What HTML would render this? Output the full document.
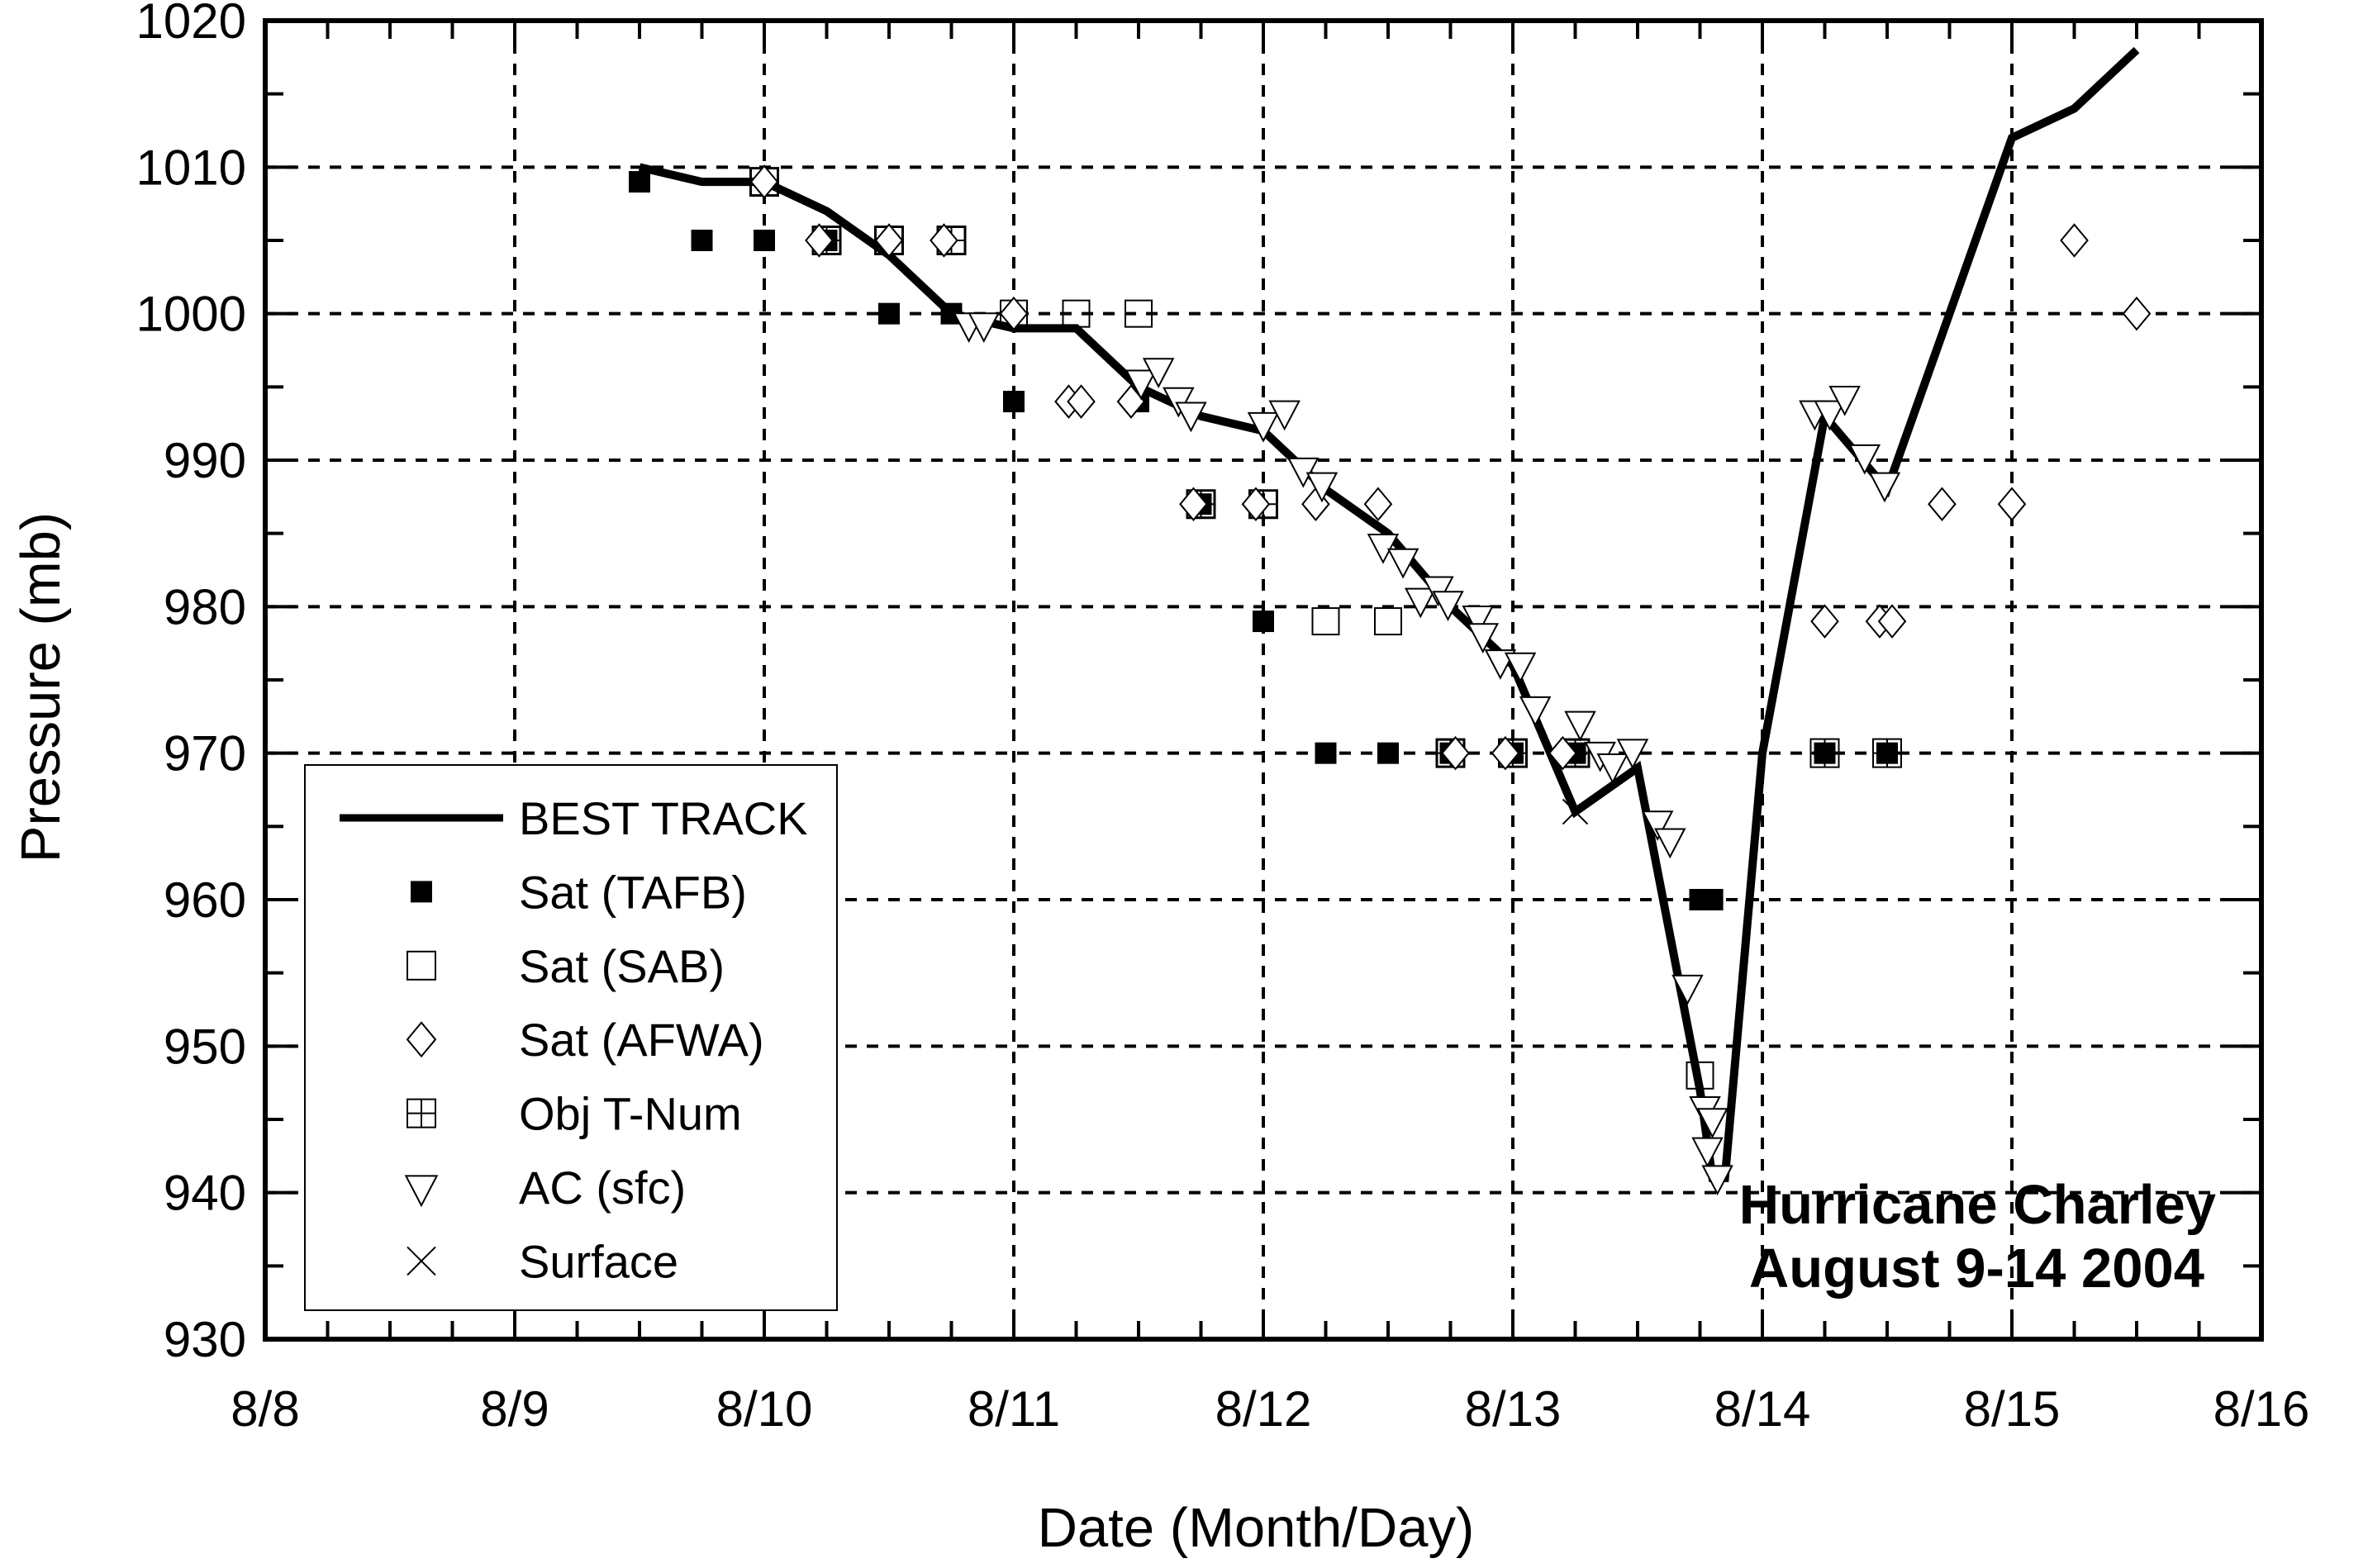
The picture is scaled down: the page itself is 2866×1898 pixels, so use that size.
<!DOCTYPE html>
<html><head><meta charset="utf-8"><style>
html,body{margin:0;padding:0;background:#fff;}
svg{display:block;font-family:"Liberation Sans",Arial,sans-serif;}
</style></head><body>
<svg id="chart" width="2866" height="1898" viewBox="0 0 2866 1898" xmlns="http://www.w3.org/2000/svg">
<rect width="2866" height="1898" fill="#fff"/>
<g id="grid"></g>
<g id="ticks"></g>
<g id="series"></g>
<rect x="321" y="25" width="2416" height="1596" fill="none" stroke="#000" stroke-width="6"/>
<g id="labels" font-size="60"></g>
<text x="0" y="0" font-size="67" text-anchor="middle" transform="translate(72,832) rotate(-90)">Pressure (mb)</text>
<text x="1520" y="1872" font-size="67" text-anchor="middle">Date (Month/Day)</text>
<g font-size="67" font-weight="bold" text-anchor="end">
<text x="2682" y="1481">Hurricane Charley</text>
<text x="2668" y="1558">August 9-14 2004</text>
</g>
<g id="legend"></g>
</svg>
<script>
const xTickLabels=["8/8","8/9","8/10","8/11","8/12","8/13","8/14","8/15","8/16"];
const yTickLabels=[930,940,950,960,970,980,990,1000,1010,1020];
const bestDays=[9.5,9.75,10,10.25,10.5,10.75,11,11.25,11.5,11.75,12,12.25,12.5,12.75,13,13.25,13.5,13.75,13.8,13.85,14,14.25,14.5,15,15.25,15.5];
const bestP=[1010,1009,1009,1007,1004,1000,999,999,995,993,992,988,985,980,976,966,969,947,941,941,970,993,988,1012,1014,1018];
const tafbDays=[9.5,9.75,10,10.25,10.5,10.75,11,11.5,11.75,12,12.25,12.5,12.75,13,13.25,13.75,13.8,14.25,14.5];
const tafbP=[1009,1005,1005,1005,1000,1000,994,994,987,979,970,970,970,970,970,960,960,970,970];
const sabDays=[10,10.25,10.5,10.75,11,11.25,11.5,11.75,12,12.25,12.5,12.75,13,13.25,13.75];
const sabP=[1009,1005,1005,1005,1000,1000,1000,987,987,979,979,970,970,970,948];
const afwaDays=[10,10.22,10.5,10.72,11,11.22,11.27,11.47,11.72,11.97,12.21,12.46,12.77,12.97,13.2,14.25,14.47,14.52,14.72,15,15.25,15.5];
const afwaP=[1009,1005,1005,1005,1000,994,994,994,987,987,987,987,970,970,970,979,979,979,987,987,1005,1000];
const objDays=[10,10.25,10.5,10.75,11.75,12,12.75,13,13.25,14.25,14.5];
const objP=[1009,1005,1005,1005,987,987,970,970,970,970,970];
const acDays=[10.82,10.88,11.51,11.58,11.66,11.71,12,12.085,12.16,12.235,12.48,12.56,12.63,12.7,12.74,12.86,12.88,12.95,13.03,13.09,13.27,13.35,13.4,13.48,13.58,13.63,13.7,13.77,13.78,13.8,13.82,14.21,14.27,14.33,14.41,14.49];
const acP=[999.3,999.3,995.4,996.2,994.2,993.2,992.5,993.3,989.4,988.4,984.2,983.2,980.5,981.3,980.3,979.3,978.1,976.3,976.1,973.1,972.1,970,969.2,970.2,965.3,964.1,954.1,945.8,943,945,941.1,993.3,993.3,994.3,990.3,988.4];
const sfcDays=[13.25];
const sfcP=[966];

const NS="http://www.w3.org/2000/svg";
const X0=321,X1=2737,Y0=1621,Y1=25;
function xs(d){return X0+(d-8)*(X1-X0)/8;}
function ys(p){return Y0-(p-930)*(Y0-Y1)/90;}
function mk(tag,attrs,parent){const e=document.createElementNS(NS,tag);for(const k in attrs)e.setAttribute(k,attrs[k]);parent.appendChild(e);return e;}
const grid=document.getElementById('grid'),ticks=document.getElementById('ticks'),labels=document.getElementById('labels'),series=document.getElementById('series'),legend=document.getElementById('legend');
for(let i=1;i<xTickLabels.length-1;i++){const x=xs(8+i);
 const l=mk('line',{x1:x,y1:Y1,x2:x,y2:Y0,stroke:'#000','stroke-width':4,'stroke-dasharray':'14 12'},grid);
 
 }
for(let i=1;i<yTickLabels.length-1;i++){const y=ys(yTickLabels[i]);
 const l=mk('line',{x1:X0,y1:y,x2:X1,y2:y,stroke:'#000','stroke-width':4,'stroke-dasharray':'14 12'},grid);
 
 }
for(let q=0;q<=32;q++){const x=X0+q*(X1-X0)/32;const len=q%4==0?36:22;
 mk('line',{x1:x,y1:Y0,x2:x,y2:Y0-len,stroke:'#000','stroke-width':4},ticks);
 mk('line',{x1:x,y1:Y1,x2:x,y2:Y1+len,stroke:'#000','stroke-width':4},ticks);}
for(let q=0;q<=18;q++){const y=Y0-q*(Y0-Y1)/18;const len=q%2==0?36:22;
 mk('line',{x1:X0,y1:y,x2:X0+len,y2:y,stroke:'#000','stroke-width':4},ticks);
 mk('line',{x1:X1,y1:y,x2:X1-len,y2:y,stroke:'#000','stroke-width':4},ticks);}
xTickLabels.forEach((t,i)=>{const e=mk('text',{x:xs(8+i),y:1726,'text-anchor':'middle'},labels);e.textContent=t;
 
 });
yTickLabels.forEach(t=>{const e=mk('text',{x:298,y:ys(t)+21,'text-anchor':'end'},labels);e.textContent=t;
 
 });
function marker(type,cx,cy,s,g){
 const h=s/2;
 if(type==='tafb') return mk('rect',{x:cx-h,y:cy-h,width:s,height:s,fill:'#000'},g);
 if(type==='sab') return mk('rect',{x:cx-h,y:cy-h,width:s,height:s,fill:'none',stroke:'#000','stroke-width':2},g);
 if(type==='afwa') return mk('polygon',{points:`${cx},${cy-h*1.2} ${cx+h},${cy} ${cx},${cy+h*1.2} ${cx-h},${cy}`,fill:'#fff',stroke:'#000','stroke-width':2},g);
 if(type==='obj') return mk('path',{d:`M${cx-h},${cy-h}h${s}v${s}h${-s}z M${cx},${cy-h}v${s} M${cx-h},${cy}h${s}`,fill:'none',stroke:'#000','stroke-width':2},g);
 if(type==='ac') return mk('polygon',{points:`${cx-h*1.1},${cy-h*0.8} ${cx+h*1.1},${cy-h*0.8} ${cx},${cy+h*1.3}`,fill:'#fff',stroke:'#000','stroke-width':2},g);
 if(type==='sfc') return mk('path',{d:`M${cx-h},${cy-h}L${cx+h},${cy+h}M${cx+h},${cy-h}L${cx-h},${cy+h}`,stroke:'#000','stroke-width':2},g);
}
const pts=bestDays.map((d,i)=>xs(d)+','+ys(bestP[i])).join(' ');
const bt=mk('polyline',{points:pts,fill:'none',stroke:'#000','stroke-width':10,'stroke-linejoin':'miter'},series);


function drawSeries(type,days,vals,size,name){
 days.forEach((d,i)=>{const m=marker(type,xs(d),ys(vals[i]),size,series);
  
  });
}
drawSeries('tafb',tafbDays,tafbP,26,'tafb-point');
drawSeries('sab',sabDays,sabP,32,'sab-point');
drawSeries('obj',objDays,objP,34,'obj-tnum-point');
drawSeries('afwa',afwaDays,afwaP,32,'afwa-point');
drawSeries('ac',acDays,acP,32,'ac-sfc-point');
drawSeries('sfc',sfcDays,sfcP,30,'surface-point');
const lb=mk('rect',{x:369,y:926,width:644,height:660,fill:'#fff',stroke:'#000','stroke-width':2},legend);


const names=["BEST TRACK","Sat (TAFB)","Sat (SAB)","Sat (AFWA)","Obj T-Num","AC (sfc)","Surface"];
const types=[null,'tafb','sab','afwa','obj','ac','sfc'];
names.forEach((n,i)=>{const y=990+i*89.4;
 if(i===0){mk('line',{x1:411,y1:y,x2:609,y2:y,stroke:'#000','stroke-width':9},legend);}
 else{marker(types[i],510,y,i===1?26:34,legend);}
 const t=mk('text',{x:628,y:y+20,'font-size':56},legend);t.textContent=n;
 
 });
</script>
</body></html>
